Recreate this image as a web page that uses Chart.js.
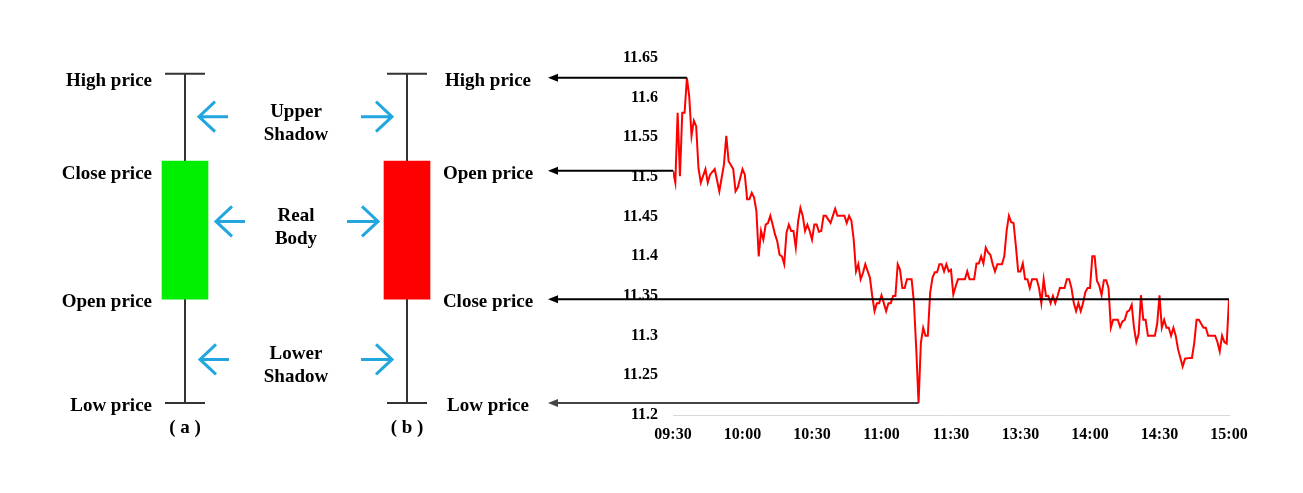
<!DOCTYPE html>
<html>
<head>
<meta charset="utf-8">
<title>Candlestick</title>
<script src="https://cdn.jsdelivr.net/npm/chart.js@4"></script>
<style>
  html, body { margin: 0; padding: 0; background: #fff; }
  .wrap { position: relative; width: 1303px; height: 493px; }
  .wrap canvas { position: absolute; left: 0; top: 0; }
</style>
</head>
<body>
<div class="wrap">
  <canvas class="candleChart" width="1303" height="493"></canvas>
  <canvas class="priceChart" width="1303" height="493"></canvas>
</div>
<script>
// x axis labels of the intraday chart (one tick every 30 trading minutes)
const timeLabels = ["09:30", "10:00", "10:30", "11:00", "11:30", "13:30", "14:00", "14:30", "15:00"];

// trading minute since 09:30 and price
const minutes = [
  0, 1, 2, 3, 4, 5, 6, 7, 8, 9, 10, 11, 12, 14, 15, 16, 18, 20, 22, 23, 24, 26, 27, 28, 30,
  31, 32, 33, 34, 35, 36, 37, 38, 39, 40, 41, 42, 43, 44, 45, 46, 47, 48, 49, 50, 51, 52, 53, 54, 55,
  56, 57, 58, 59, 60, 61, 62, 63, 64, 65, 66, 68, 69, 70, 71, 74, 75, 76, 77, 78, 79, 80, 81, 82, 83,
  85, 86, 87, 88, 89, 90, 91, 92, 93, 94, 95, 96, 97, 98, 99, 100, 101, 103, 104, 105, 106, 107, 108, 109, 110,
  111, 112, 113, 114, 115, 116, 117, 118, 119, 120, 121, 122, 123, 126, 127, 128, 130, 131, 132, 133, 134, 135, 136, 137, 138,
  139, 140, 142, 143, 144, 145, 146, 147, 148, 149, 150, 151, 152, 153, 154, 155, 157, 158, 159, 160, 161, 162, 163, 164, 165,
  166, 167, 169, 170, 171, 172, 173, 174, 175, 176, 177, 178, 179, 180, 181, 182, 183, 184, 185, 186, 187, 188, 189, 190, 192,
  193, 194, 195, 196, 197, 198, 199, 200, 201, 202, 203, 204, 205, 208, 209, 210, 211, 212, 213, 214, 215, 216, 217, 218, 220,
  221, 223, 224, 225, 226, 227, 229, 230, 231, 234, 235, 236, 237, 238, 239, 240
];
const prices = [
  11.508, 11.493, 11.581, 11.501, 11.581, 11.581, 11.625, 11.602, 11.552, 11.571, 11.564, 11.511, 11.493, 11.510, 11.493, 11.503, 11.510, 11.482, 11.516, 11.552, 11.520, 11.510, 11.482, 11.487, 11.510,
  11.503, 11.472, 11.472, 11.480, 11.474, 11.457, 11.400, 11.432, 11.421, 11.440, 11.442, 11.451, 11.440, 11.428, 11.419, 11.402, 11.400, 11.390, 11.430, 11.440, 11.432, 11.432, 11.411, 11.444, 11.461,
  11.451, 11.432, 11.440, 11.432, 11.421, 11.440, 11.440, 11.431, 11.432, 11.451, 11.451, 11.442, 11.451, 11.460, 11.451, 11.451, 11.442, 11.451, 11.445, 11.421, 11.381, 11.390, 11.371, 11.379, 11.390,
  11.373, 11.350, 11.331, 11.341, 11.341, 11.351, 11.341, 11.331, 11.341, 11.341, 11.350, 11.350, 11.390, 11.383, 11.360, 11.360, 11.371, 11.371, 11.342, 11.283, 11.215, 11.291, 11.310, 11.300, 11.300,
  11.354, 11.373, 11.380, 11.380, 11.390, 11.390, 11.381, 11.390, 11.381, 11.383, 11.352, 11.362, 11.371, 11.371, 11.381, 11.371, 11.371, 11.391, 11.391, 11.400, 11.391, 11.411, 11.405, 11.402, 11.390,
  11.381, 11.390, 11.390, 11.400, 11.432, 11.451, 11.443, 11.442, 11.413, 11.381, 11.381, 11.391, 11.371, 11.371, 11.360, 11.371, 11.371, 11.360, 11.341, 11.371, 11.350, 11.350, 11.341, 11.350, 11.341,
  11.350, 11.360, 11.360, 11.371, 11.371, 11.360, 11.341, 11.331, 11.341, 11.331, 11.341, 11.355, 11.360, 11.360, 11.400, 11.400, 11.369, 11.363, 11.351, 11.370, 11.370, 11.360, 11.310, 11.320, 11.320,
  11.311, 11.318, 11.320, 11.330, 11.332, 11.339, 11.310, 11.292, 11.302, 11.351, 11.320, 11.320, 11.300, 11.300, 11.315, 11.351, 11.310, 11.320, 11.310, 11.310, 11.300, 11.310, 11.300, 11.283, 11.261,
  11.271, 11.272, 11.272, 11.291, 11.320, 11.320, 11.310, 11.310, 11.300, 11.300, 11.292, 11.280, 11.300, 11.292, 11.290, 11.346
];

// the two schematic candles, (a) rising and (b) falling
const candleNames = ["( a )", "( b )"];
const candleOpen = [11.346, 11.52];
const candleClose = [11.52, 11.346];
const candleHigh = [11.63, 11.63];
const candleLow = [11.215, 11.215];
const candleColors = ["#00ee00", "#ff0000"];

const leftLabels = ["High price", "Close price", "Open price", "Low price"];
const rightLabels = ["High price", "Open price", "Close price", "Low price"];
const partNames = [["Upper", "Shadow"], ["Real", "Body"], ["Lower", "Shadow"]];
const partLevels = [11.576, 11.444, 11.27];

const W = 1303, H = 493;
const plotTop = 58, plotBottom = 415, plotRight = 1229, plotLeft = 673;
const labelFont = "bold 19px 'Times New Roman', 'Liberation Serif', serif";

Chart.defaults.font.family = "'Times New Roman', 'Liberation Serif', serif";
Chart.defaults.font.weight = "bold";
Chart.defaults.color = "#000";

// price levels shared by the labels: high, open, close, low
const iMax = prices.indexOf(Math.max(...prices));
const iMin = prices.indexOf(Math.min(...prices));
const levels = [prices[iMax], prices[0], prices[prices.length - 1], prices[iMin]];
const levelMinutes = [minutes[iMax], minutes[0], minutes[minutes.length - 1], minutes[iMin]];

function blueArrow(ctx, tipX, y, dir, len) {
  // dir = -1 points left, 1 points right
  ctx.beginPath();
  ctx.moveTo(tipX, y);
  ctx.lineTo(tipX - dir * len, y);
  ctx.moveTo(tipX - dir * 16, y - 15);
  ctx.lineTo(tipX, y);
  ctx.lineTo(tipX - dir * 16, y + 15);
  ctx.stroke();
}

const candleDecor = {
  id: "candleDecor",
  beforeDatasetsDraw(chart) {
    const { ctx, scales: { x, y } } = chart;
    ctx.save();
    ctx.strokeStyle = "#333";
    ctx.lineWidth = 2;
    candleNames.forEach((_, i) => {
      const cx = x.getPixelForValue(i);
      const yh = y.getPixelForValue(candleHigh[i]);
      const yl = y.getPixelForValue(candleLow[i]);
      ctx.beginPath();
      ctx.moveTo(cx, yh);
      ctx.lineTo(cx, yl);
      ctx.moveTo(cx - 20, yh);
      ctx.lineTo(cx + 20, yh);
      ctx.moveTo(cx - 20, yl);
      ctx.lineTo(cx + 20, yl);
      ctx.stroke();
    });
    ctx.restore();
  },
  afterDraw(chart) {
    const { ctx, scales: { x, y } } = chart;
    const xa = x.getPixelForValue(0);
    const xb = x.getPixelForValue(1);
    ctx.save();
    ctx.font = labelFont;
    ctx.fillStyle = "#000";
    ctx.textBaseline = "middle";
    ctx.textAlign = "right";
    leftLabels.forEach((t, i) => ctx.fillText(t, xa - 33, y.getPixelForValue(levels[i]) + 3));

    ctx.textAlign = "center";
    const gapL = [14, 31, 15];
    const gapR = [15, 29, 15];
    partNames.forEach((lines, i) => {
      const py = y.getPixelForValue(partLevels[i]);
      ctx.fillText(lines[0], (xa + xb) / 2, py - 5);
      ctx.fillText(lines[1], (xa + xb) / 2, py + 18);
      ctx.strokeStyle = "#22a6dd";
      ctx.lineWidth = 3;
      blueArrow(ctx, xa + gapL[i], py, -1, 29);
      blueArrow(ctx, xb - gapR[i], py, 1, 31);
    });
    ctx.restore();
  }
};

new Chart(document.querySelector(".candleChart"), {
  type: "bar",
  data: {
    labels: candleNames,
    datasets: [
      {
        data: candleNames.map((_, i) => [candleOpen[i], candleClose[i]]),
        backgroundColor: candleColors,
        barThickness: 46,
        borderWidth: 0,
      },
    ],
  },
  options: {
    responsive: false,
    animation: false,
    layout: { padding: { top: plotTop, left: 74, right: W - 518, bottom: 0 } },
    plugins: { legend: { display: false }, tooltip: { enabled: false } },
    scales: {
      x: {
        grid: { display: false, drawTicks: false },
        border: { display: false },
        ticks: { padding: 2, font: { size: 19 } },
        afterFit: (s) => { s.height = H - plotBottom; },
      },
      y: { display: false, min: 11.2, max: 11.65 },
    },
  },
  plugins: [candleDecor],
});

const priceDecor = {
  id: "priceDecor",
  afterDraw(chart) {
    const { ctx, scales: { x, y } } = chart;
    const tipX = 548;
    ctx.save();
    ctx.font = labelFont;
    ctx.textAlign = "center";
    ctx.textBaseline = "middle";
    levels.forEach((v, i) => {
      const py = y.getPixelForValue(v);
      const col = i === 3 ? "#444" : "#000";
      ctx.fillStyle = "#000";
      ctx.fillText(rightLabels[i], tipX - 60, py + 3);
      ctx.strokeStyle = col;
      ctx.fillStyle = col;
      ctx.lineWidth = 2;
      ctx.beginPath();
      ctx.moveTo(tipX + 6, py);
      ctx.lineTo(x.getPixelForValue(levelMinutes[i]), py);
      ctx.stroke();
      ctx.beginPath();
      ctx.moveTo(tipX, py);
      ctx.lineTo(tipX + 10, py - 4);
      ctx.lineTo(tipX + 10, py + 4);
      ctx.closePath();
      ctx.fill();
    });
    ctx.restore();
  }
};

new Chart(document.querySelector(".priceChart"), {
  type: "line",
  data: {
    datasets: [
      {
        data: minutes.map((m, i) => ({ x: m, y: prices[i] })),
        borderColor: "#ff0000",
        borderWidth: 2,
        pointRadius: 0,
        tension: 0,
      },
    ],
  },
  options: {
    responsive: false,
    animation: false,
    layout: { padding: { top: plotTop, left: 0, right: W - plotRight, bottom: 0 } },
    plugins: { legend: { display: false }, tooltip: { enabled: false } },
    scales: {
      x: {
        type: "linear",
        min: 0,
        max: 240,
        grid: { display: false, drawTicks: false },
        border: { color: "#d9d9d9", width: 1 },
        ticks: {
          stepSize: 30,
          padding: 10,
          autoSkip: false,
          maxRotation: 0,
          font: { size: 16 },
          callback: (v) => timeLabels[Math.round(v / 30)],
        },
        afterFit: (s) => { s.height = H - plotBottom; },
      },
      y: {
        min: 11.2,
        max: 11.65,
        grid: { display: false, drawTicks: false },
        border: { display: false },
        ticks: {
          stepSize: 0.05,
          padding: 15,
          font: { size: 16 },
          callback: (v) => String(+v.toFixed(2)),
        },
        afterFit: (s) => { s.width = plotLeft; },
      },
    },
  },
  plugins: [priceDecor],
});
</script>
</body>
</html>
